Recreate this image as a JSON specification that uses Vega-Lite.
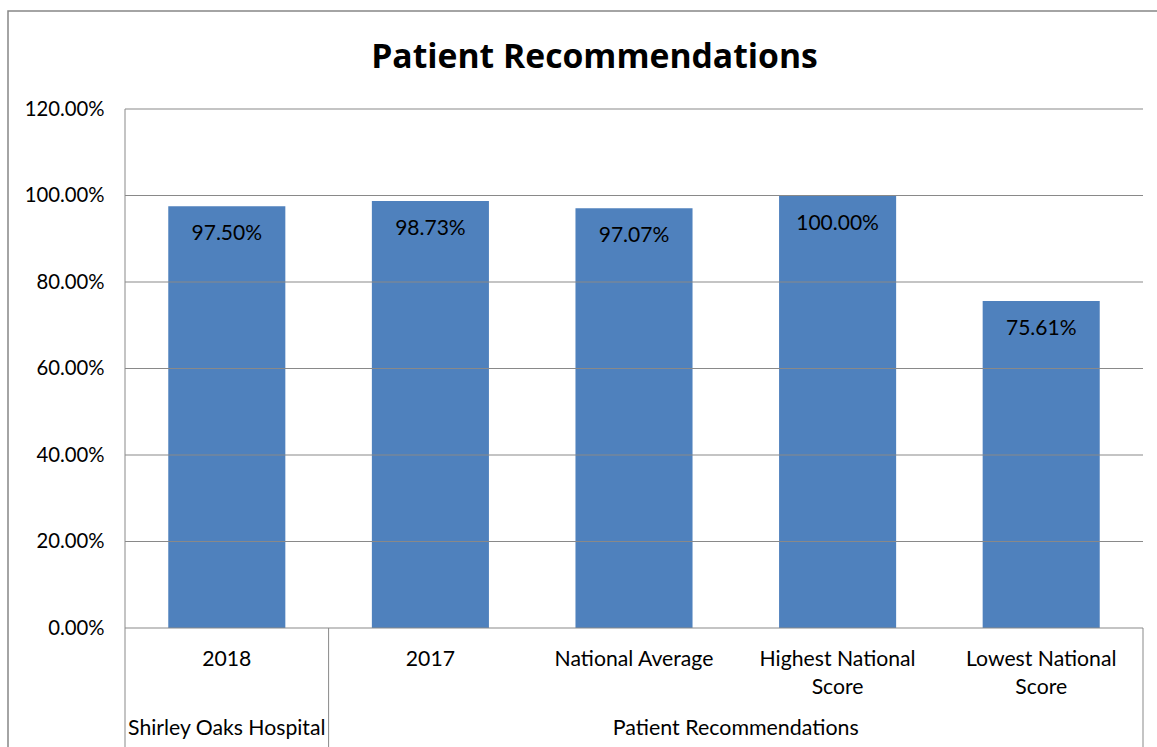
{
  "$schema": "https://vega.github.io/schema/vega-lite/v6.json",
  "width": 1161,
  "height": 748,
  "autosize": {"type": "none"},
  "padding": {"left": 8, "top": 11, "right": -12, "bottom": -12},
  "background": "white",
  "config": {"view": {"stroke": "#868686", "strokeWidth": 1.5}, "font": "Lato"},
  "title": {"text": "Patient Recommendations", "font": "Open Sans", "fontSize": 33.7, "fontWeight": "bold", "color": "#000000", "anchor": "middle", "frame": "group", "offset": -64, "dx": 6},
  "data": {"values": [
    {"category": "2018", "group": "Shirley Oaks Hospital", "value": 0.975},
    {"category": "2017", "group": "Patient Recommendations", "value": 0.9873},
    {"category": "National Average", "group": "Patient Recommendations", "value": 0.9707},
    {"category": "Highest National Score", "group": "Patient Recommendations", "value": 1.0},
    {"category": "Lowest National Score", "group": "Patient Recommendations", "value": 0.7561}
  ]},
  "resolve": {"scale": {"x": "independent"}, "axis": {"x": "independent", "y": "independent"}},
  "layer": [
    {
      "mark": {"type": "bar", "color": "#4F81BD"},
      "encoding": {
        "x": {
          "field": "category", "type": "nominal", "sort": null,
          "scale": {"range": [117, 1135], "paddingInner": 0.425, "paddingOuter": 0.2125},
          "axis": {
            "orient": "bottom", "offset": -131, "domain": false, "ticks": false, "grid": false,
            "labelPadding": 20, "labelFontSize": 21.2, "labelFont": "Lato", "labelColor": "#000000",
            "labelLineHeight": 28, "labelAngle": 0, "labelBaseline": "top", "labelLimit": 400, "labelOverlap": false,
            "labelExpr": "datum.label == 'Highest National Score' || datum.label == 'Lowest National Score' ? [slice(datum.label, 0, -6), 'Score'] : datum.label",
            "title": null
          }
        },
        "y": {
          "field": "value", "type": "quantitative",
          "scale": {"domain": [0, 1.2], "range": [617, 98]},
          "axis": {
            "orient": "left", "values": [0, 0.2, 0.4, 0.6, 0.8, 1.0, 1.2], "format": ".2%", "grid": false, "domain": false, "ticks": false,
            "labelPadding": 21, "offset": -117, "labelFontSize": 20.3, "labelFont": "Lato", "labelColor": "#000000", "title": null
          }
        }
      }
    },
    {
      "mark": {"type": "text", "baseline": "alphabetic", "dy": 34, "fontSize": 21, "font": "Lato", "color": "#000000"},
      "encoding": {
        "x": {"field": "category", "type": "nominal", "sort": null, "scale": {"range": [117, 1135], "paddingInner": 0.425, "paddingOuter": 0.2125}, "axis": null},
        "y": {"field": "value", "type": "quantitative", "axis": null},
        "text": {"field": "value", "type": "quantitative", "format": ".2%"}
      }
    },
    {
      "data": {"values": [{"tick": 0}, {"tick": 0.2}, {"tick": 0.4}, {"tick": 0.6}, {"tick": 0.8}, {"tick": 1.0}, {"tick": 1.2}]},
      "mark": {"type": "rule", "color": "#898989", "strokeWidth": 1},
      "encoding": {
        "x": {"datum": 0, "type": "quantitative", "scale": {"domain": [0, 5], "range": [117, 1135]}, "axis": null},
        "x2": {"datum": 5},
        "y": {"field": "tick", "type": "quantitative", "axis": null}
      }
    },
    {
      "data": {"values": [{}]},
      "mark": {"type": "rule", "color": "#898989", "strokeWidth": 1},
      "encoding": {
        "x": {"datum": 0, "type": "quantitative", "scale": {"domain": [0, 5], "range": [117, 1135]}, "axis": null},
        "y": {"datum": 1.2, "type": "quantitative", "axis": null},
        "y2": {"datum": -0.4}
      }
    },
    {
      "data": {"values": [{}]},
      "mark": {"type": "rule", "color": "#898989", "strokeWidth": 1},
      "encoding": {
        "x": {"datum": 1, "type": "quantitative", "scale": {"domain": [0, 5], "range": [117, 1135]}, "axis": null},
        "y": {"datum": 0, "type": "quantitative", "axis": null},
        "y2": {"datum": -0.4}
      }
    },
    {
      "data": {"values": [{}]},
      "mark": {"type": "rule", "color": "#898989", "strokeWidth": 1},
      "encoding": {
        "x": {"datum": 5, "type": "quantitative", "scale": {"domain": [0, 5], "range": [117, 1135]}, "axis": null},
        "y": {"datum": 0, "type": "quantitative", "axis": null},
        "y2": {"datum": -0.4}
      }
    },
    {
      "data": {"values": [{}]},
      "mark": {"type": "text", "text": "Shirley Oaks Hospital", "baseline": "alphabetic", "dy": 107, "fontSize": 21.2, "font": "Lato", "color": "#000000"},
      "encoding": {
        "x": {"datum": 0.5, "type": "quantitative", "scale": {"domain": [0, 5], "range": [117, 1135]}, "axis": null},
        "y": {"datum": 0, "type": "quantitative", "axis": null}
      }
    },
    {
      "data": {"values": [{}]},
      "mark": {"type": "text", "text": "Patient Recommendations", "baseline": "alphabetic", "dy": 107, "fontSize": 21.4, "font": "Lato", "color": "#000000"},
      "encoding": {
        "x": {"datum": 3, "type": "quantitative", "scale": {"domain": [0, 5], "range": [117, 1135]}, "axis": null},
        "y": {"datum": 0, "type": "quantitative", "axis": null}
      }
    }
  ]
}
